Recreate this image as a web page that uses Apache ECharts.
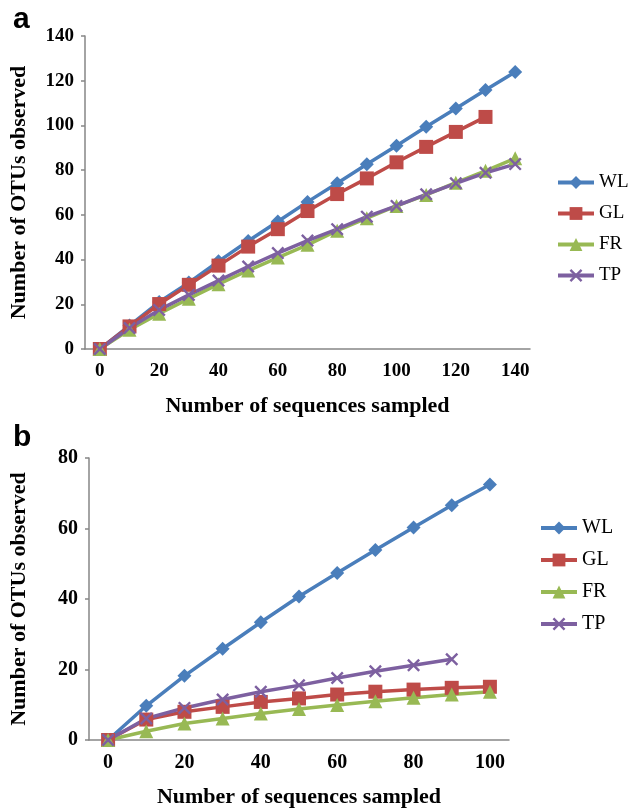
<!DOCTYPE html>
<html>
<head>
<meta charset="utf-8">
<script src="https://cdn.jsdelivr.net/npm/echarts@6/dist/echarts.min.js"></script>
<style>
  html, body { margin: 0; padding: 0; background: #fff; }
  #chart { width: 628px; height: 809px; }
</style>
</head>
<body>
<div id="chart"></div>
<script>
const NAMES = ['WL', 'GL', 'FR', 'TP'];
const COLORS = { WL: '#4A7EBB', GL: '#BE4B48', FR: '#98B954', TP: '#7D60A0', axis: '#868686' };

// panel a
const catsA = ['0', '10', '20', '30', '40', '50', '60', '70', '80', '90', '100', '110', '120', '130', '140'];
const wlA = [0, 10.5, 21, 29.7, 39.2, 48.3, 57, 65.8, 74.1, 82.6, 90.9, 99.4, 107.6, 115.8, 123.9];
const glA = [0, 10.1, 20.1, 28.7, 37.3, 45.8, 53.6, 61.7, 69.3, 76.3, 83.5, 90.4, 97.1, 103.8];
const frA = [0, 8.6, 15.8, 22.5, 29, 35.1, 40.9, 46.6, 52.9, 58.5, 64, 68.9, 74.4, 79.7, 85.3];
const tpA = [0, 9.4, 17.5, 24.2, 30.6, 36.9, 42.9, 48.5, 53.6, 59.2, 64, 69.2, 74.1, 78.8, 82.7];

// panel b
const catsB = ['0', '10', '20', '30', '40', '50', '60', '70', '80', '90', '100'];
const wlB = [0, 9.7, 18.2, 25.9, 33.4, 40.7, 47.4, 53.9, 60.3, 66.6, 72.5];
const glB = [0, 5.8, 8.0, 9.4, 10.8, 11.8, 12.9, 13.7, 14.3, 14.8, 15.1];
const frB = [0, 2.5, 4.7, 6.1, 7.5, 8.8, 9.9, 11, 12, 12.9, 13.7];
const tpB = [0, 6.1, 9.1, 11.5, 13.7, 15.5, 17.6, 19.5, 21.2, 22.9];

const CROSS = 'path://M0,1.3 L1.3,0 L10,8.7 L8.7,10 Z M8.7,0 L10,1.3 L1.3,10 L0,8.7 Z';
const SYMBOLS = { WL: 'diamond', GL: 'rect', FR: 'triangle', TP: CROSS };
const SIZES = { WL: 14, GL: 14, FR: 14, TP: 13 };

const SERIF = '"Liberation Serif", "Times New Roman", serif';

function lineSeries(name, data, idx) {
  return {
    name, type: 'line', data,
    xAxisIndex: idx, yAxisIndex: idx,
    symbol: SYMBOLS[name], symbolSize: SIZES[name],
    showSymbol: true,
    lineStyle: { color: COLORS[name], width: 3.5 },
    itemStyle: { color: COLORS[name] },
    animation: false,
  };
}

function xAxis(cats, idx, fontSize) {
  return {
    type: 'category', gridIndex: idx, data: cats, boundaryGap: true,
    name: 'Number of sequences sampled', nameLocation: 'middle', nameGap: 46,
    nameTextStyle: { fontFamily: SERIF, fontWeight: 'bold', fontSize: 22, color: '#000' },
    axisLine: { lineStyle: { color: COLORS.axis, width: 1.5 } },
    axisTick: { interval: 1, length: 6, lineStyle: { color: COLORS.axis, width: 1.5 } },
    axisLabel: { interval: 1, margin: 13, fontFamily: SERIF, fontWeight: 'bold', fontSize, color: '#000' },
    splitLine: { show: false },
  };
}

function yAxis(max, interval, idx, fontSize, gap) {
  return {
    type: 'value', gridIndex: idx, min: 0, max, interval,
    name: 'Number of OTUs observed', nameLocation: 'middle', nameGap: gap,
    nameTextStyle: { fontFamily: SERIF, fontWeight: 'bold', fontSize: 22, color: '#000' },
    axisLine: { show: true, lineStyle: { color: COLORS.axis, width: 1.5 } },
    axisTick: { show: true, length: 4, lineStyle: { color: COLORS.axis, width: 1.5 } },
    axisLabel: { margin: 11, fontFamily: SERIF, fontWeight: 'bold', fontSize, color: '#000' },
    splitLine: { show: false },
  };
}

function legend(left, top, gap, fontSize) {
  return {
    orient: 'vertical', left, top, data: NAMES, padding: 0,
    itemWidth: 36, itemHeight: 16, itemGap: gap,
    lineStyle: { width: 4 },
    textStyle: { fontFamily: SERIF, fontSize, color: '#000' },
    selectedMode: false,
  };
}

const chart = echarts.init(document.getElementById('chart'), null, { renderer: 'canvas' });
chart.setOption({
  backgroundColor: '#fff',
  animation: false,
  title: [
    { text: 'a', left: 8, top: 0, textStyle: { fontFamily: '"Liberation Sans", Arial, sans-serif', fontWeight: 'bold', fontSize: 30, color: '#000' } },
    { text: 'b', left: 8, top: 418, textStyle: { fontFamily: '"Liberation Sans", Arial, sans-serif', fontWeight: 'bold', fontSize: 30, color: '#000' } },
  ],
  grid: [
    { left: 82, right: 98, top: 36, bottom: 460 },
    { left: 86, right: 119, top: 458, bottom: 67 },
  ],
  legend: [legend(556, 173, 12, 19), legend(539, 518, 12, 20)],
  xAxis: [xAxis(catsA, 0, 19), xAxis(catsB, 1, 20)],
  yAxis: [yAxis(140, 20, 0, 19, 55), yAxis(80, 20, 1, 20, 59)],
  series: [
    lineSeries('WL', wlA, 0), lineSeries('GL', glA, 0), lineSeries('FR', frA, 0), lineSeries('TP', tpA, 0),
    lineSeries('WL', wlB, 1), lineSeries('GL', glB, 1), lineSeries('FR', frB, 1), lineSeries('TP', tpB, 1),
  ],
});
</script>
</body>
</html>
